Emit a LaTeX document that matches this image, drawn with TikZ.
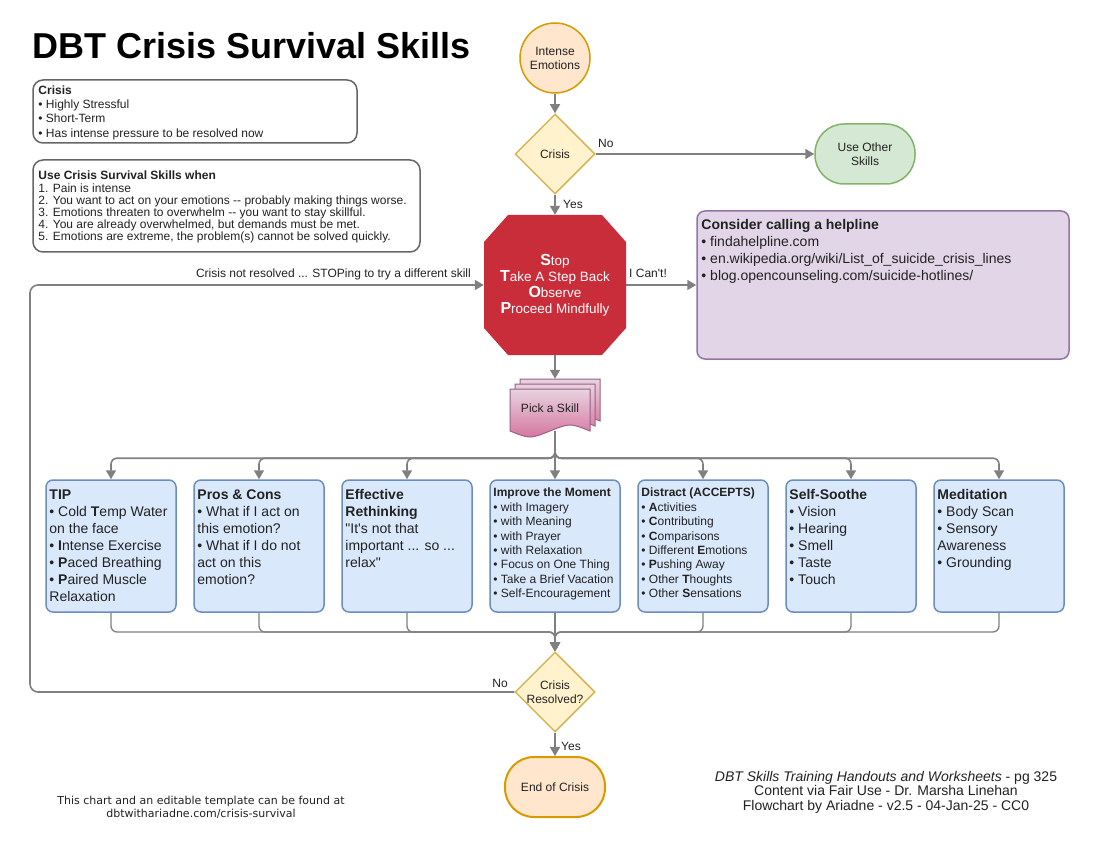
\documentclass[tikz,border=0pt]{standalone}
\usepackage{fontspec}
\setmainfont{Liberation Sans}[Ligatures=TeXOff]
\newfontfamily\dejavu{DejaVu Sans}[Ligatures=TeXOff]
\usetikzlibrary{shapes.geometric,arrows.meta,calc}
\definecolor{lineg}{HTML}{808080}
\definecolor{txt}{HTML}{222222}
\definecolor{orfill}{HTML}{FFE6CC}
\definecolor{ordraw}{HTML}{D79B00}
\definecolor{yefill}{HTML}{FFF2CC}
\definecolor{yedraw}{HTML}{D6B656}
\definecolor{grfill}{HTML}{D5E8D4}
\definecolor{grdraw}{HTML}{82B366}
\definecolor{pufill}{HTML}{E1D5E7}
\definecolor{pudraw}{HTML}{9673A6}
\definecolor{blfill}{HTML}{DAE8FC}
\definecolor{bldraw}{HTML}{6C8EBF}
\definecolor{stopred}{HTML}{C92D39}
\definecolor{pktop}{HTML}{E8D3E0}
\definecolor{pkbot}{HTML}{D5739D}
\definecolor{pkdraw}{HTML}{996185}
\definecolor{infodraw}{HTML}{666666}
\newcommand{\fsz}[2]{\fontsize{#1}{#2}\selectfont}
\newcommand{\pkpage}[2]{%
  \begin{scope}[shift={(#1,#2)}]
    \path[draw=pkdraw, line width=1pt, top color=pktop, bottom color=pkbot]
      (0,0) -- (80,0) -- (80,42) .. controls (60,34) .. (40,42)
      .. controls (20,50) .. (0,42) -- cycle;
  \end{scope}}
\tikzset{
  arr/.style={draw=lineg, line width=1.6pt, rounded corners=6pt, -{Triangle[length=9pt,width=10pt]}},
  thin arr/.style={arr, line width=1.3pt},
  lab/.style={font=\fsz{12}{14}, text=txt, inner sep=0pt},
  skill/.style={draw=bldraw, fill=blfill, line width=1.5pt, rounded corners=7pt, minimum width=130pt, minimum height=132pt, inner sep=0pt},
  skilltxt/.style={anchor=north west, inner sep=0pt, align=left, text=txt, font=\fsz{14}{17}},
  skillsm/.style={skilltxt, font=\fsz{12}{14.4}},
  dia/.style={diamond, draw=yedraw, fill=yefill, line width=1.5pt, minimum width=80pt, minimum height=80pt, inner sep=0pt, align=center, font=\fsz{12}{14}, text=txt},
  stad/.style={rectangle, rounded corners=29pt, line width=1.5pt, minimum width=100pt, minimum height=60pt, inner sep=0pt, align=center, font=\fsz{12}{14}, text=txt},
  info/.style={draw=infodraw, fill=white, line width=1.5pt, rounded corners=10pt, inner sep=0pt},
  infotxt/.style={anchor=north west, inner sep=0pt, align=left, text=txt},
}
\begin{document}
\begin{tikzpicture}[x=1pt,y=-1pt]
\useasboundingbox[fill=white] (0,0) rectangle (1100,850);

% title
\node[anchor=base west, inner sep=0pt, font=\fsz{36}{40}\bfseries, text=black] (title) at (32,59) {DBT Crisis Survival Skills};

% info boxes
\node[info, minimum width=324pt, minimum height=63pt] (info1) at (195,111.5) {};
\node[infotxt, font=\fsz{12}{14.4}] (info1t) at ($(info1.north west)+(6,6)$) {\textbf{Crisis}\\• Highly Stressful\\• Short-Term\\• Has intense pressure to be resolved now};
\node[info, minimum width=387pt, minimum height=92pt] (info2) at (226.5,206) {};
\node[infotxt, font=\fsz{12}{12.2}] (info2t) at ($(info2.north west)+(6,11.7)$) {\textbf{Use Crisis Survival Skills when}\\1. Pain is intense\\2. You want to act on your emotions -- probably making things worse.\\3. Emotions threaten to overwhelm -- you want to stay skillful.\\4. You are already overwhelmed, but demands must be met.\\5. Emotions are extreme, the problem(s) cannot be solved quickly.};

% top flow
\node[circle, draw=ordraw, fill=orfill, line width=1.5pt, minimum size=70pt, inner sep=0pt, align=center, font=\fsz{12}{14}, text=txt] (ie) at (555,58) {Intense\\Emotions};
\node[dia] (crisis) at (555,154) {Crisis};
\node[stad, draw=grdraw, fill=grfill] (other) at (865,154) {Use Other\\Skills};

% stop octagon
\coordinate (sc) at (555,285);
\fill[stopred] ($(sc)+(-47,-70)$) -- ($(sc)+(47,-70)$) -- ($(sc)+(71,-43)$) -- ($(sc)+(71,43)$) -- ($(sc)+(47,70)$) -- ($(sc)+(-47,70)$) -- ($(sc)+(-71,43)$) -- ($(sc)+(-71,-43)$) -- cycle;
\node[minimum width=142pt, minimum height=140pt, inner sep=0pt, align=center, text=white, font=\fsz{13.5}{16}] (stop) at (sc) {{\fsz{16}{16}\bfseries S}top\\{\fsz{16}{16}\bfseries T}ake A Step Back\\{\fsz{16}{16}\bfseries O}bserve\\{\fsz{16}{16}\bfseries P}roceed Mindfully};

% helpline
\node[draw=pudraw, fill=pufill, line width=1.5pt, rounded corners=8pt, minimum width=372pt, minimum height=148pt, inner sep=0pt] (help) at (883,285) {};
\node[infotxt, font=\fsz{14}{17}] (helpt) at ($(help.north west)+(5,9)$) {\textbf{Consider calling a helpline}\\• findahelpline.com\\• en.wikipedia.org/wiki/List\_of\_suicide\_crisis\_lines\\• blog.opencounseling.com/suicide-hotlines/};

% pick a skill
\pkpage{520}{379}
\pkpage{515}{384}
\pkpage{510}{389}
\node[minimum width=90pt, minimum height=52pt, inner sep=0pt] (pick) at (555,405) {};
\node[font=\fsz{12}{14}, text=txt, inner sep=0pt] (pickt) at (550,408) {Pick a Skill};

% skills
\node[skill] (tip) at (111,546) {};
\node[skilltxt] (tipt) at ($(tip.north west)+(4,10)$) {\textbf{TIP}\\• Cold \textbf{T}emp Water\\on the face\\• \textbf{I}ntense Exercise\\• \textbf{P}aced Breathing\\• \textbf{P}aired Muscle\\Relaxation};
\node[skill] (pros) at (259,546) {};
\node[skilltxt] (prost) at ($(pros.north west)+(4,10)$) {\textbf{Pros \& Cons}\\• What if I act on\\this emotion?\\• What if I do not\\act on this\\emotion?};
\node[skill] (eff) at (407,546) {};
\node[skilltxt] (efft) at ($(eff.north west)+(4,10)$) {\textbf{Effective}\\\textbf{Rethinking}\\"It's not that\\important ... so ...\\relax"};
\node[skill] (imp) at (555,546) {};
\node[skillsm] (impt) at ($(imp.north west)+(4,8.7)$) {\textbf{Improve the Moment}\\• with Imagery\\• with Meaning\\• with Prayer\\• with Relaxation\\• Focus on One Thing\\• Take a Brief Vacation\\• Self-Encouragement};
\node[skill] (dis) at (703,546) {};
\node[skillsm] (dist) at ($(dis.north west)+(4,8.7)$) {\textbf{Distract (ACCEPTS)}\\• \textbf{A}ctivities\\• \textbf{C}ontributing\\• \textbf{C}omparisons\\• Different \textbf{E}motions\\• \textbf{P}ushing Away\\• Other \textbf{T}houghts\\• Other \textbf{S}ensations};
\node[skill] (soo) at (851,546) {};
\node[skilltxt] (soot) at ($(soo.north west)+(4,10)$) {\textbf{Self-Soothe}\\• Vision\\• Hearing\\• Smell\\• Taste\\• Touch};
\node[skill] (med) at (999,546) {};
\node[skilltxt] (medt) at ($(med.north west)+(4,10)$) {\textbf{Meditation}\\• Body Scan\\• Sensory\\Awareness\\• Grounding};

% bottom flow
\node[dia] (res) at (555,692) {Crisis\\Resolved?};
\node[stad, draw=ordraw, fill=orfill, line width=2pt] (end) at (555,787) {End of Crisis};

% connectors
\draw[arr] (ie.south) -- (crisis.north);
\draw[arr] (crisis.east) -- (other.west);
\draw[arr] (crisis.south) -- (stop.north);
\draw[arr] (stop.east) -- (help.west);
\draw[arr] (stop.south) -- (pick.north);
\foreach \b in {tip,pros,eff,dis,soo,med}{
  \draw[arr] (pick.south) -- ++(0,27) -| (\b.north);
}
\draw[arr] (pick.south) -- (imp.north);
\coordinate (mg) at (555,632);
\foreach \b in {tip,pros,eff,dis,soo,med}{
  \draw[thin arr] (\b.south) |- (mg) -- (res.north);
}
\draw[thin arr] (imp.south) -- (res.north);
\coordinate (lp) at (30,692);
\draw[arr, rounded corners=8pt] (res.west) -- (lp) |- (stop.west);
\draw[arr] (res.south) -- (end.north);

% labels
\node[lab, anchor=south west] (lno1) at (598,147.5) {No};
\node[lab, anchor=west] (lyes1) at (563,204) {Yes};
\node[lab, anchor=west] (lcant) at (629,273) {I Can't!};
\node[lab, anchor=east] (lnr) at (471,274) {Crisis not resolved ... STOPing to try a different skill};
\node[lab] (lno2) at (500,683) {No};
\node[lab, anchor=west] (lyes2) at (561,746) {Yes};

% footers
\node[anchor=north, align=center, inner sep=0pt, font=\fsz{14}{14.5}, text=txt] (credit) at (886,771) {\textit{DBT Skills Training Handouts and Worksheets} - pg 325\\Content via Fair Use - Dr. Marsha Linehan\\Flowchart by Ariadne - v2.5 - 04-Jan-25 - CC0};
\node[anchor=north, align=center, inner sep=0pt, font=\dejavu\fsz{11}{13}, text=txt] (src) at (201,796) {This chart and an editable template can be found at\\dbtwithariadne.com/crisis-survival};
\end{tikzpicture}
\end{document}
